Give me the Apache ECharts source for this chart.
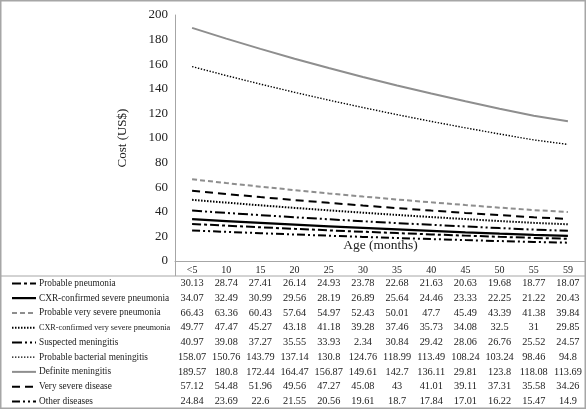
<!DOCTYPE html>
<html><head><meta charset="utf-8">
<script src="https://cdn.jsdelivr.net/npm/echarts@6/dist/echarts.min.js"></script>
<style>html,body{margin:0;padding:0;background:#fff}#c{width:586px;height:409px}</style>
</head><body><div id="c"></div>
<script>
var categories = ['<5','10','15','20','25','30','35','40','45','50','55','59'];
var seriesNames = ['Probable pneumonia','CXR-confirmed severe pneumonia','Probable very severe pneumonia','CXR-confirmed very severe pneumonia','Suspected meningitis','Probable bacterial meningitis','Definite meningitis','Very severe disease','Other diseases'];
var probablePneumonia = [30.13,28.74,27.41,26.14,24.93,23.78,22.68,21.63,20.63,19.68,18.77,18.07];
var cxrSeverePneumonia = [34.07,32.49,30.99,29.56,28.19,26.89,25.64,24.46,23.33,22.25,21.22,20.43];
var probableVerySeverePneumonia = [66.43,63.36,60.43,57.64,54.97,52.43,50.01,47.7,45.49,43.39,41.38,39.84];
var cxrVerySeverePneumonia = [49.77,47.47,45.27,43.18,41.18,39.28,37.46,35.73,34.08,32.5,31,29.85];
var suspectedMeningitis = [40.97,39.08,37.27,35.55,33.93,32.34,30.84,29.42,28.06,26.76,25.52,24.57];
var probableBacterialMeningitis = [158.07,150.76,143.79,137.14,130.8,124.76,118.99,113.49,108.24,103.24,98.46,94.8];
var definiteMeningitis = [189.57,180.8,172.44,164.47,156.87,149.61,142.7,136.11,129.81,123.8,118.08,113.69];
var verySevereDisease = [57.12,54.48,51.96,49.56,47.27,45.08,43,41.01,39.11,37.31,35.58,34.26];
var otherDiseases = [24.84,23.69,22.6,21.55,20.56,19.61,18.7,17.84,17.01,16.22,15.47,14.9];
// misprints in the printed table of the original (line uses the true value)
var printedMisprints = {'4_5':'2.34','6_8':'29.81'};
var yTicks = {min:0,max:200,interval:20};

var allData = [probablePneumonia,cxrSeverePneumonia,probableVerySeverePneumonia,cxrVerySeverePneumonia,suspectedMeningitis,probableBacterialMeningitis,definiteMeningitis,verySevereDisease,otherDiseases];
var GREY = '#8e8e8e';
var styles = [
  {color:'#000',width:2,type:[9,3,3,3]},
  {color:'#000',width:2.2,type:'solid'},
  {color:GREY,width:2,type:[5,3]},
  {color:'#000',width:2,type:[1.5,1.5]},
  {color:'#000',width:2,type:[10,3,2,3,2,3]},
  {color:'#000',width:1.4,type:[1.4,1.6]},
  {color:GREY,width:2,type:'solid'},
  {color:'#000',width:2,type:[8,5]},
  {color:'#000',width:2,type:[8,3,2,3,2,3]}
];
var labelSizes = [9.3,9.3,9.3,8.2,9.3,9.3,9.3,9.3,9.3];
var FONT = 'Liberation Serif';
function fnt(size){ return 'normal ' + size + 'px "Liberation Serif", serif'; }
var chart = echarts.init(document.getElementById('c'), null, {renderer:'canvas'});
var gridLeft = 175, gridRight = 1, gridTop = 15, gridBottom = 148;
var option = {
  animation:false,
  backgroundColor:'#fff',
  textStyle:{fontFamily:FONT},
  grid:{left:gridLeft,right:gridRight,top:gridTop,bottom:gridBottom,containLabel:false},
  xAxis:{type:'category',data:categories,boundaryGap:true,
    axisLine:{show:true,lineStyle:{color:'#a6a6a6',width:1}},axisTick:{show:false},
    axisLabel:{margin:4,color:'#222',fontFamily:FONT,fontSize:10,interval:0}},
  yAxis:{type:'value',min:yTicks.min,max:yTicks.max,interval:yTicks.interval,
    axisLine:{show:true,lineStyle:{color:'#a6a6a6',width:1}},axisTick:{show:false},splitLine:{show:false},
    axisLabel:{margin:7,color:'#222',fontFamily:FONT,fontSize:13},
    name:'Cost (US$)',nameLocation:'middle',nameGap:46,nameRotate:90,
    nameTextStyle:{fontFamily:FONT,fontSize:13,color:'#222'}},
  series: seriesNames.map(function(n,i){
    return {name:n,type:'line',data:allData[i],symbol:'none',smooth:false,
      lineStyle:{color:styles[i].color,width:styles[i].width,type:styles[i].type}};
  })
};
chart.setOption(option);

var g = [];
var rowTop = 276, rowH = 14.75;
var W = 586;
g.push({type:'rect',shape:{x:0.75,y:0.75,width:W-1.5,height:407.5},style:{fill:null,stroke:'#a6a6a6',lineWidth:1.5},silent:true});
g.push({type:'line',shape:{x1:0,y1:rowTop,x2:W,y2:rowTop},style:{stroke:'#a6a6a6',lineWidth:1}});
g.push({type:'line',shape:{x1:gridLeft+0.5,y1:gridTop,x2:gridLeft+0.5,y2:rowTop},style:{stroke:'#a6a6a6',lineWidth:1}});
g.push({type:'text',x:(gridLeft+W)/2,y:245,style:{text:'Age (months)',font:fnt(13.5),fontFamily:FONT,fontSize:13.5,fill:'#222',align:'center',verticalAlign:'middle'}});
seriesNames.forEach(function(n,i){
  var cy = rowTop + rowH*(i+0.5);
  g.push({type:'line',shape:{x1:12,y1:cy,x2:36,y2:cy},
    style:{stroke:styles[i].color,lineWidth:styles[i].width,lineDash:styles[i].type==='solid'?null:styles[i].type}});
  g.push({type:'text',x:39,y:cy,style:{text:n,font:fnt(labelSizes[i]),fontFamily:FONT,fontSize:labelSizes[i],fill:'#222',verticalAlign:'middle'}});
  allData[i].forEach(function(v,j){
    var px = chart.convertToPixel({xAxisIndex:0},categories[j]);
    var t = printedMisprints[i+'_'+j] || String(v);
    g.push({type:'text',x:px,y:cy,style:{text:t,font:fnt(10.3),fontFamily:FONT,fontSize:10.3,fill:'#222',align:'center',verticalAlign:'middle'}});
  });
});
chart.setOption({graphic:g});
</script></body></html>
